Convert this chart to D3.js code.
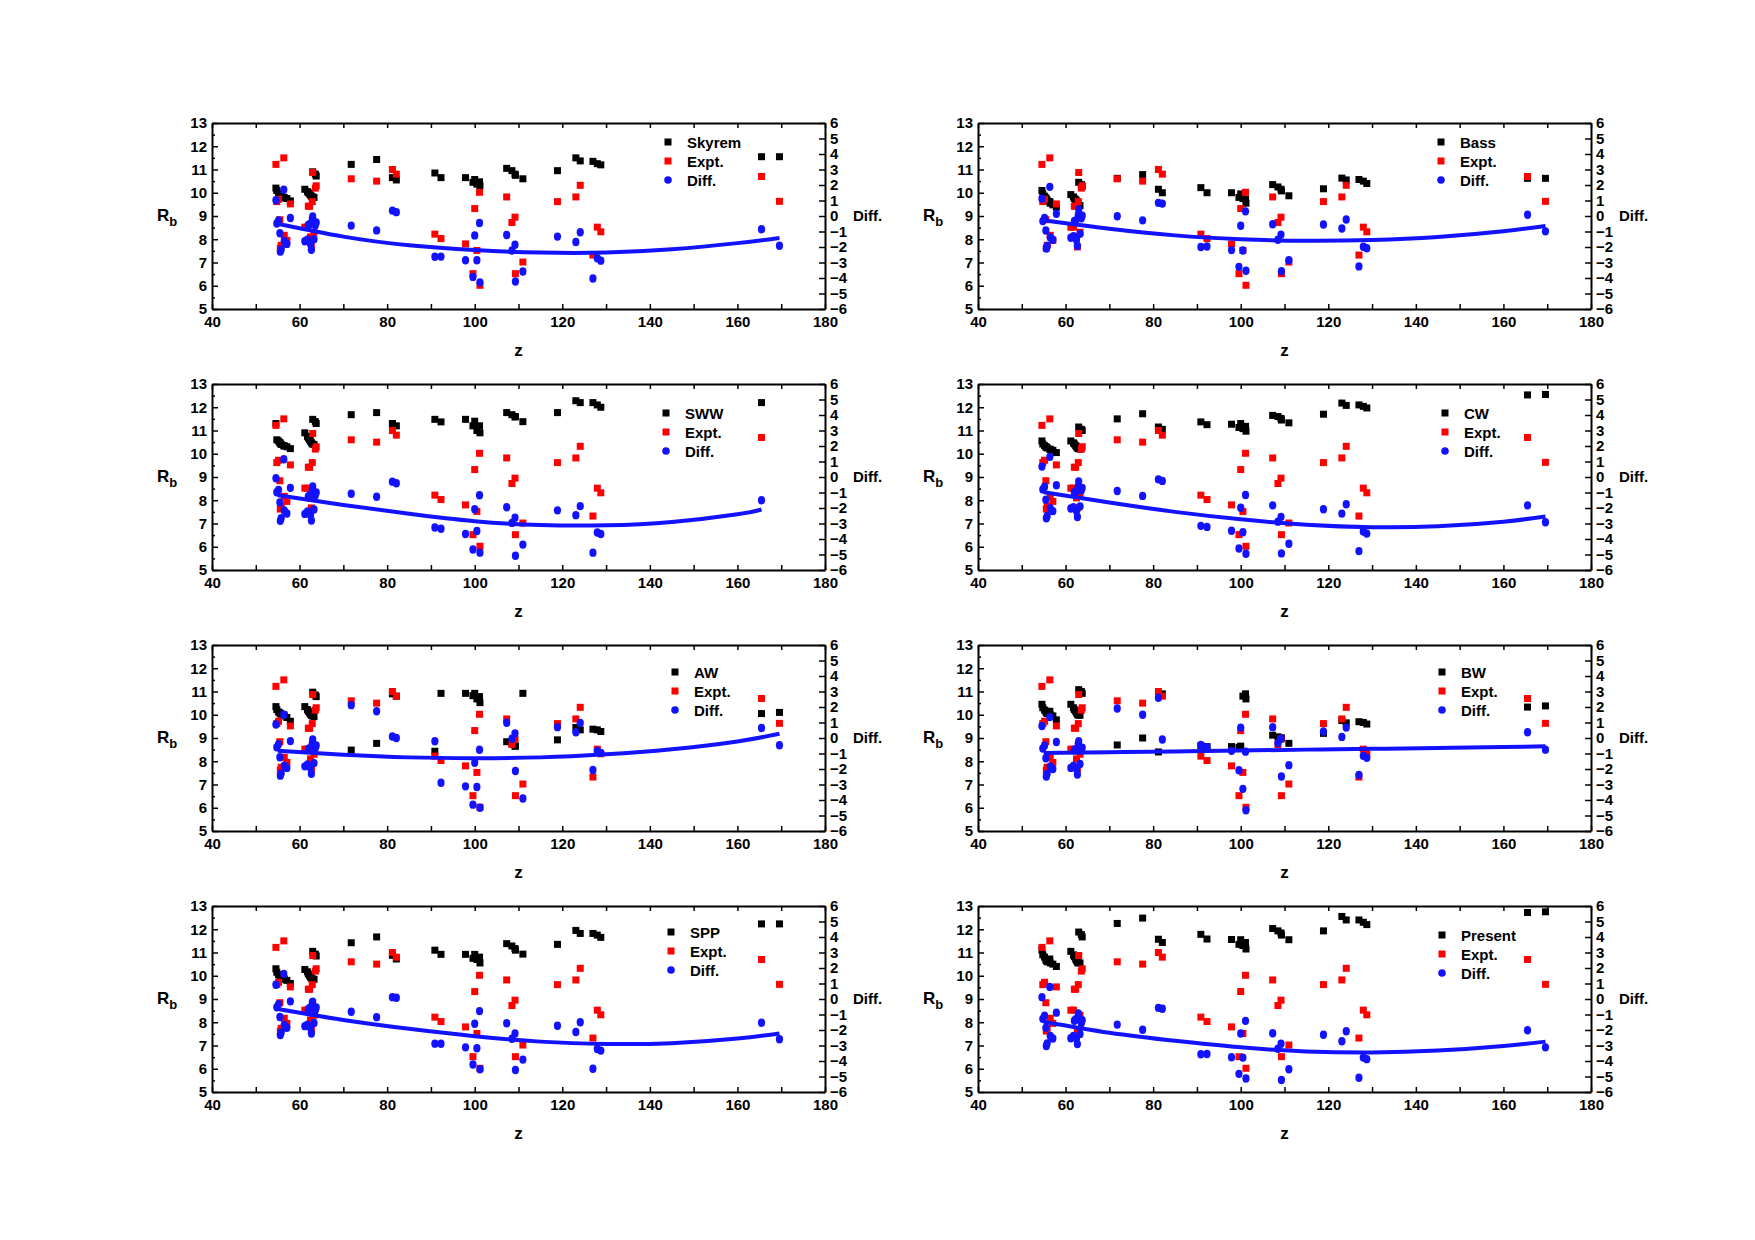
<!DOCTYPE html>
<html lang="en">
<head>
<meta charset="UTF-8">
<title>Rb vs z</title>
<script src="https://cdn.jsdelivr.net/npm/d3@7"></script>
<style>
  body{ margin:0; background:#fff; }
  text{ font-family:"Liberation Sans", Arial, sans-serif; font-weight:bold; }
</style>
</head>
<body>
<div id="canvas"></div>
<script>
// z of each nucleus and experimental Rb (same in every panel)
var zValues = [54.6,54.8,55.2,55.5,55.6,55.8,56.4,56.5,57.1,57.9,
  61.2,61.8,62.0,62.3,62.5,62.7,62.9,63.0,63.3,63.6,63.8,
  71.8,77.6,81.2,82.1,90.9,92.3,97.9,99.6,100.0,100.5,101.1,101.2,
  107.3,108.5,109.2,109.3,111.0,118.9,123.1,124.1,127.0,128.0,128.8,165.5,169.6];
var exptRb = [11.22,9.62,9.72,8.84,7.62,7.74,11.5,8.17,7.95,9.52,
  8.52,8.52,9.42,9.42,8.1,7.67,9.62,10.87,8.3,10.2,10.3,
  10.6,10.5,11.0,10.8,8.22,8.03,7.8,6.52,9.32,7.52,10.02,6.02,
  9.82,8.72,8.95,6.52,7.02,9.62,9.82,10.32,7.32,8.52,8.32,10.7,9.63];

// model Rb, one list per panel
var skyrem = [10.2,10.1,10.0,9.95,9.92,9.9,9.8,9.78,9.75,9.65,
  10.15,10.05,10.0,9.95,9.9,9.85,9.82,10.9,9.8,10.8,10.72,
  11.22,11.43,10.65,10.55,10.85,10.65,10.65,10.45,10.57,10.37,10.47,10.3,
  11.05,10.95,10.8,10.75,10.6,10.95,11.5,11.37,11.35,11.25,11.2,11.55,11.55];
var bass = [10.1,9.95,9.85,9.78,9.72,9.68,9.62,9.55,9.48,9.38,
  9.92,9.82,9.75,9.7,9.65,9.6,9.55,10.45,9.45,10.35,10.28,
  10.62,10.78,10.15,10.0,10.22,10.0,10.0,9.8,9.95,9.75,9.72,9.55,
  10.35,10.25,10.15,10.08,9.87,10.17,10.63,10.55,10.57,10.5,10.4,10.62,10.62];
var sww = [11.3,10.6,10.55,10.48,10.45,10.4,10.35,10.33,10.3,10.22,
  10.9,10.75,10.68,10.6,10.55,10.48,10.42,11.48,10.4,11.38,11.3,
  11.68,11.77,11.3,11.2,11.48,11.37,11.48,11.2,11.4,11.0,11.2,10.9,
  11.77,11.68,11.58,11.6,11.38,11.77,12.28,12.2,12.2,12.1,12.0,12.2,null];
var cw = [10.55,10.42,10.35,10.3,10.28,10.25,10.2,10.18,10.15,10.05,
  10.55,10.47,10.42,10.35,10.3,10.25,10.22,11.15,10.2,11.05,11.0,
  11.5,11.72,11.15,11.05,11.37,11.25,11.27,11.13,11.3,11.08,11.18,10.97,
  11.65,11.6,11.52,11.45,11.33,11.7,12.18,12.08,12.1,12.04,11.97,12.53,12.55];
var aw = [10.35,10.22,10.12,10.08,10.05,10.02,10.0,9.95,9.88,9.72,
  10.35,10.22,10.15,10.08,10.02,9.98,9.95,10.97,9.92,10.85,10.78,
  8.48,8.77,10.9,10.8,8.43,10.92,10.92,10.82,10.92,10.68,10.78,10.52,
  8.84,8.77,8.65,8.65,10.92,8.92,9.45,9.35,9.38,9.35,9.28,10.05,10.1];
var bw = [10.45,10.3,10.2,10.15,10.1,10.05,10.15,10.0,9.95,9.78,
  10.45,10.3,10.22,10.15,10.08,10.02,9.98,11.08,9.98,11.0,10.92,
  8.7,9.0,8.4,10.9,8.67,8.63,8.63,8.6,8.65,10.8,10.9,10.68,
  9.12,9.05,9.0,9.0,8.77,9.2,9.75,9.65,9.7,9.67,9.6,10.33,10.38];
var spp = [10.3,10.15,10.05,10.0,9.95,9.9,9.88,9.85,9.8,9.67,
  10.27,10.17,10.08,10.0,9.95,9.9,9.86,11.05,9.85,10.93,10.85,
  11.42,11.67,10.88,10.72,11.1,10.92,10.92,10.75,10.92,10.7,10.8,10.55,
  11.38,11.28,11.17,11.1,10.93,11.35,11.95,11.82,11.82,11.75,11.65,12.23,12.23];
var present = [11.1,10.9,10.8,10.7,10.65,10.6,10.72,10.55,10.5,10.4,
  11.05,10.9,10.82,10.72,10.65,10.58,10.55,11.88,10.55,11.77,11.67,
  12.25,12.48,11.57,11.43,11.78,11.58,11.56,11.35,11.55,11.3,11.43,11.15,
  12.03,11.93,11.84,11.75,11.55,11.93,12.55,12.4,12.4,12.3,12.2,12.72,12.75];

// fitted Diff curves (right axis units), read at these z
var fitZ = [55,70,85,100,115,130,145,160,169.6];
var fitZSww = [55,70,85,100,115,130,145,160,165.5];
var fitSkyrem  = [-0.5,-1.33,-1.89,-2.2,-2.36,-2.36,-2.15,-1.75,-1.42];
var fitBass    = [-0.27,-0.82,-1.25,-1.5,-1.6,-1.55,-1.35,-0.98,-0.65];
var fitSww     = [-1.17,-1.8,-2.37,-2.85,-3.1,-3.12,-2.9,-2.4,-2.1];
var fitCw      = [-0.98,-1.65,-2.25,-2.73,-3.08,-3.24,-3.18,-2.88,-2.55];
var fitAw      = [-0.83,-1.08,-1.25,-1.3,-1.25,-1.05,-0.72,-0.22,0.27];
var fitBw      = [-0.96,-0.92,-0.87,-0.81,-0.75,-0.7,-0.65,-0.58,-0.54];
var fitSpp     = [-0.65,-1.35,-1.92,-2.4,-2.75,-2.9,-2.85,-2.55,-2.22];
var fitPresent = [-1.47,-2.18,-2.7,-3.12,-3.38,-3.45,-3.33,-3.03,-2.75];

var modelNames = ["Skyrem","Bass","SWW","CW","AW","BW","SPP","Present"];
var modelValues = [skyrem, bass, sww, cw, aw, bw, spp, present];
var fitValues = [fitSkyrem, fitBass, fitSww, fitCw, fitAw, fitBw, fitSpp, fitPresent];
var fitZs = [fitZ, fitZ, fitZSww, fitZ, fitZ, fitZ, fitZ, fitZ];

var xTicks = [40,60,80,100,120,140,160,180];
var leftTicks = [5,6,7,8,9,10,11,12,13];
var rightTicks = [-6,-5,-4,-3,-2,-1,0,1,2,3,4,5,6];

// layout
var W = 1755, H = 1240;
var colX = [212, 978];
var rowY = [123, 384, 645, 906];
var pw = 613, ph = 186;
var legendPos = [[456,19],[463,19],[454,29],[467,29],[463,27],[464,27],[459,26],[464,29]];

var BLUE = "#1212ff", RED = "#ff0000";

var svg = d3.select("#canvas").append("svg")
  .attr("width", W).attr("height", H)
  .style("background", "#fff");

var x = d3.scaleLinear().domain([40,180]).range([0,pw]);
var yL = d3.scaleLinear().domain([5,13]).range([ph,0]);
var yR = d3.scaleLinear().domain([-6,6]).range([ph,0]);

function styleAxis(g){
  g.select(".domain").attr("stroke","#000").attr("stroke-width",2);
  g.selectAll(".tick line").attr("stroke","#000").attr("stroke-width",1.5);
  g.selectAll("text").attr("font-size",15).attr("font-family","'Liberation Sans', Arial, sans-serif")
    .attr("font-weight","bold").attr("fill","#000");
}

modelNames.forEach(function(name, p){
  var model = modelValues[p];
  var g = svg.append("g")
    .attr("transform","translate(" + colX[p % 2] + "," + rowY[Math.floor(p / 2)] + ")");

  var pts = [];
  zValues.forEach(function(z, i){
    if (model[i] == null) return;
    pts.push({z: z, model: model[i], expt: exptRb[i], diff: exptRb[i] - model[i]});
  });

  // axes
  g.append("g").attr("transform","translate(0," + ph + ")")
    .call(d3.axisBottom(x).tickValues(d3.range(40,181,10))
      .tickFormat(function(d){ return xTicks.indexOf(d) >= 0 ? d : ""; })
      .tickSizeInner(-5).tickSizeOuter(0).tickPadding(7))
    .call(styleAxis);
  g.append("g")
    .call(d3.axisTop(x).tickValues(d3.range(40,181,10)).tickFormat("")
      .tickSizeInner(-5).tickSizeOuter(0))
    .call(styleAxis);
  var la = g.append("g")
    .call(d3.axisLeft(yL).tickValues(d3.range(5,13.01,0.5))
      .tickFormat(function(d){ return leftTicks.indexOf(d) >= 0 ? d : ""; })
      .tickSizeInner(-6).tickSizeOuter(0).tickPadding(5))
    .call(styleAxis);
  la.selectAll(".tick line").attr("x2", function(d){ return d % 1 === 0 ? 6 : 3; });
  g.append("g").attr("transform","translate(" + pw + ",0)")
    .call(d3.axisRight(yR).tickValues(rightTicks)
      .tickSizeInner(-6).tickSizeOuter(0).tickPadding(5))
    .call(styleAxis);

  // model Rb
  g.selectAll(".model").data(pts).enter().append("rect")
    .attr("x", function(d){ return x(d.z) - 3.5; })
    .attr("y", function(d){ return yL(d.model) - 3.5; })
    .attr("width", 7).attr("height", 7).attr("fill", "#000");
  // experiment
  g.selectAll(".expt").data(pts).enter().append("rect")
    .attr("x", function(d){ return x(d.z) - 3.5; })
    .attr("y", function(d){ return yL(d.expt) - 3.5; })
    .attr("width", 7).attr("height", 7).attr("fill", RED);
  // difference (right axis)
  g.selectAll(".diff").data(pts).enter().append("ellipse")
    .attr("cx", function(d){ return x(d.z); })
    .attr("cy", function(d){ return yR(d.diff); })
    .attr("rx", 3.6).attr("ry", 4.2).attr("fill", BLUE);

  // fit curve
  var fz = fitZs[p];
  var fitPts = fitValues[p].map(function(v, i){ return [fz[i], v]; });
  g.append("path").datum(fitPts)
    .attr("fill","none").attr("stroke",BLUE).attr("stroke-width",4)
    .attr("d", d3.line().curve(d3.curveNatural)
      .x(function(d){ return x(d[0]); })
      .y(function(d){ return yR(d[1]); }));

  // axis titles
  var rb = g.append("text").attr("x",-55).attr("y",98).attr("font-size",17);
  rb.append("tspan").text("R");
  rb.append("tspan").attr("dy",5).attr("font-size",13).text("b");
  g.append("text").attr("x",641).attr("y",98).attr("font-size",15).text("Diff.");
  g.append("text").attr("x",pw / 2).attr("y",ph + 47).attr("text-anchor","middle")
    .attr("font-size",17).text("z");

  // legend
  var lx = legendPos[p][0], ly = legendPos[p][1];
  var items = [name, "Expt.", "Diff."];
  items.forEach(function(label, k){
    var cy = ly + k * 19;
    if (k === 2) {
      g.append("circle").attr("cx",lx).attr("cy",cy).attr("r",3.8).attr("fill",BLUE);
    } else {
      g.append("rect").attr("x",lx - 3.5).attr("y",cy - 3.5).attr("width",7).attr("height",7)
        .attr("fill", k === 0 ? "#000" : RED);
    }
    g.append("text").attr("x",lx + 19).attr("y",cy + 5.5).attr("font-size",15).text(label);
  });
});
</script>
</body>
</html>
